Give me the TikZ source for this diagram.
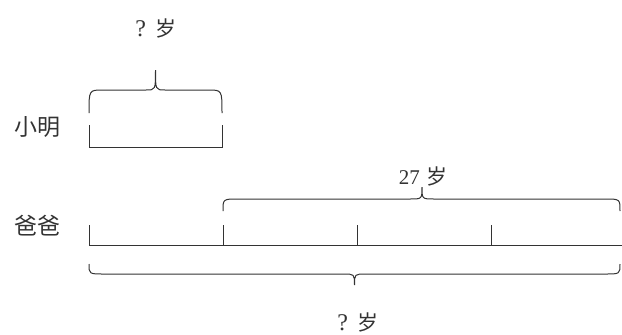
\documentclass[tikz,border=0pt]{standalone}
\usepackage{fontspec}
\setmainfont{Liberation Serif}
\newfontfamily\cjk{Noto Sans CJK SC}
\definecolor{ink}{HTML}{333333}
\begin{document}
\begin{tikzpicture}[x=1pt,y=-1pt,
  stroke/.style={draw=ink,line width=1pt},
  lbl/.style={text=ink,font=\fontsize{21}{23}\selectfont,inner sep=0pt,anchor=center},
  big/.style={lbl,font=\fontsize{23}{25}\selectfont}]
\useasboundingbox (0,0) rectangle (622,335);
% labels
\node[lbl] (q1) at (156,28) {\fontsize{24}{26}\selectfont ?\hspace{0.4em}{\fontsize{21}{23}\selectfont\cjk 岁}};
\node[big] (xm) at (37,127) {\cjk 小明};
\node[big] (bb) at (37,226) {\cjk 爸爸};
\node[lbl] (a27) at (423,176) {27\hspace{0.3em}{\cjk 岁}};
\node[lbl] (q2) at (358,322) {\fontsize{24}{26}\selectfont ?\hspace{0.4em}{\fontsize{21}{23}\selectfont\cjk 岁}};
% Xiaoming segment
\coordinate (x0) at (89,147);
\coordinate (x1) at (222,147);
\draw[stroke] (89,125) -- (x0) -- (x1) -- (222,125);
% Xiaoming brace
\draw[stroke] (89,113) .. controls (89,90) .. (103,90) -- (146,90)
  .. controls (155.5,90) .. (155.5,70) .. controls (155.5,90) .. (165,90)
  -- (208,90) .. controls (222,90) .. (222,113);
% Dad line
\coordinate (d0) at (89,245);
\coordinate (d1) at (223,245);
\coordinate (d2) at (357,245);
\coordinate (d3) at (491,245);
\coordinate (d4) at (622,245);
\draw[stroke] (d0) -- (d4);
\foreach \p in {d0,d1,d2,d3}{\draw[stroke] (\p) -- ++(0,-20);}
% top brace 27
\draw[stroke] (223,211) .. controls (223,199) .. (238,199) -- (410,199)
  .. controls (422,199) .. (422,187) .. controls (422,199) .. (434,199)
  -- (605,199) .. controls (620,199) .. (620,211);
% bottom brace
\draw[stroke] (89,264) .. controls (89,274) .. (104,274) -- (343,274)
  .. controls (354.5,274) .. (354.5,285) .. controls (354.5,274) .. (366,274)
  -- (605,274) .. controls (620,274) .. (620,264);
\end{tikzpicture}
\end{document}
